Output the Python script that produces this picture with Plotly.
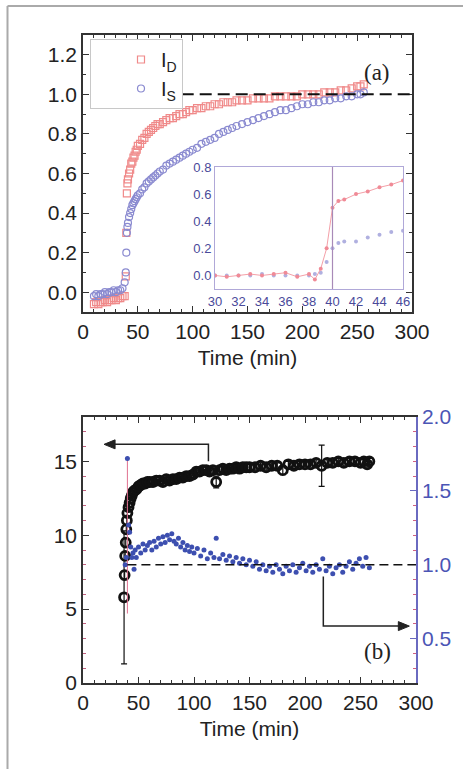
import plotly.graph_objects as go

# ---- panel (a): normalised intensities ----
time_a = [10, 12, 14, 16, 18, 20, 22, 24, 26, 28, 30, 32, 34, 36, 38, 39, 39.5, 40, 40.5, 41,
          42, 43, 44, 45, 46, 47, 48, 49, 50, 52, 54, 56, 58, 60, 62, 64, 66, 68, 70, 73,
          76, 79, 82, 85, 88, 91, 94, 97, 100, 104, 108, 112, 116, 120, 124, 128, 132, 136, 140, 145,
          150, 155, 160, 165, 170, 175, 180, 185, 190, 195, 200, 205, 210, 215, 220, 225, 230, 235, 240, 245,
          250, 253, 256]
i_d = [-0.06, -0.05, -0.06, -0.05, -0.05, -0.04, -0.05, -0.04, -0.04, -0.03, -0.04, -0.03, -0.03, -0.02, -0.02, 0.08, 0.30, 0.50, 0.55, 0.57,
       0.60, 0.62, 0.65, 0.66, 0.68, 0.69, 0.71, 0.72, 0.74, 0.75, 0.77, 0.78, 0.80, 0.81, 0.82, 0.83, 0.84, 0.85, 0.85, 0.86,
       0.87, 0.88, 0.88, 0.89, 0.90, 0.90, 0.91, 0.92, 0.92, 0.93, 0.93, 0.94, 0.94, 0.95, 0.95, 0.96, 0.96, 0.96, 0.97, 0.97,
       0.97, 0.98, 0.98, 0.98, 0.98, 0.99, 0.99, 0.99, 0.99, 0.99, 1.00, 1.00, 1.00, 1.00, 1.01, 1.01, 1.01, 1.02, 1.02, 1.03,
       1.04, 1.04, 1.05]
i_s = [-0.02, -0.01, -0.02, -0.01, -0.01, 0.00, -0.01, 0.00, 0.00, 0.01, 0.00, 0.01, 0.01, 0.02, 0.05, 0.10, 0.20, 0.30, 0.33, 0.35,
       0.38, 0.40, 0.42, 0.44, 0.45, 0.46, 0.47, 0.48, 0.49, 0.50, 0.52, 0.53, 0.55, 0.56, 0.57, 0.58, 0.59, 0.60, 0.61, 0.62,
       0.64, 0.65, 0.66, 0.67, 0.68, 0.69, 0.70, 0.71, 0.72, 0.73, 0.75, 0.76, 0.77, 0.78, 0.80, 0.81, 0.82, 0.83, 0.84, 0.85,
       0.86, 0.87, 0.88, 0.89, 0.90, 0.91, 0.92, 0.92, 0.93, 0.94, 0.95, 0.95, 0.96, 0.96, 0.97, 0.97, 0.98, 0.98, 0.99, 0.99,
       1.00, 1.00, 1.01]

# inset: zoom on the jump
time_in = [30, 31, 32, 33, 34, 35, 36, 37, 38, 38.5, 39, 39.5, 40, 40.5, 41, 42, 43, 44, 45, 46]
i_d_in = [0.00, -0.01, 0.00, 0.01, 0.00, 0.01, 0.02, -0.01, 0.01, -0.03, 0.05, 0.20, 0.50, 0.55, 0.56, 0.60, 0.62, 0.65, 0.67, 0.70]
i_s_in = [0.00, 0.00, 0.00, 0.00, 0.01, 0.00, 0.00, 0.00, 0.00, 0.01, 0.02, 0.10, 0.20, 0.24, 0.25, 0.25, 0.28, 0.30, 0.32, 0.33]

# ---- panel (b) ----
time_b = [37, 37.5, 38, 38.5, 39, 39.5, 40, 41, 42, 43, 44, 45, 46, 48, 50, 52, 54, 56, 58, 60,
          63, 66, 69, 72, 75, 78, 81, 84, 87, 90, 93, 96, 99, 102, 105, 108, 111, 114, 117, 120,
          123, 126, 129, 132, 135, 138, 141, 144, 147, 150, 155, 160, 165, 170, 175, 180, 185, 190, 195, 200,
          205, 210, 215, 220, 225, 230, 235, 240, 245, 250, 253, 256, 258]
left_b = [5.8, 7.3, 8.6, 9.5, 10.4, 11.0, 11.5, 11.9, 12.2, 12.5, 12.7, 12.9, 13.0, 13.1, 13.3, 13.4, 13.5, 13.5, 13.6, 13.6,
          13.6, 13.7, 13.7, 13.6, 13.8, 13.7, 13.8, 13.8, 13.9, 13.9, 14.0, 14.0, 14.1, 14.3, 14.3, 14.4, 14.4, 14.3, 14.4, 13.6,
          14.4, 14.5, 14.4, 14.5, 14.5, 14.6, 14.5, 14.6, 14.6, 14.6, 14.6, 14.7, 14.6, 14.7, 14.7, 14.4, 14.8, 14.7, 14.8, 14.8,
          14.8, 14.9, 14.7, 14.9, 14.9, 15.0, 14.9, 15.0, 15.0, 14.9, 15.0, 14.8, 15.0]
left_err = [4.5, 0.3, 0.3, 0.3, 0.3, 0.3, 0.3, 0.3, 0.3, 0.3, 0.3, 0.3, 0.3, 0.3, 0.3, 0.2, 0.2, 0.2, 0.2, 0.2,
            0.2, 0.2, 0.2, 0.2, 0.2, 0.2, 0.2, 0.2, 0.2, 0.2, 0.2, 0.2, 0.2, 0.2, 0.2, 0.2, 0.2, 0.2, 0.2, 0.4,
            0.2, 0.2, 0.2, 0.2, 0.2, 0.2, 0.2, 0.2, 0.2, 0.2, 0.2, 0.2, 0.2, 0.2, 0.2, 0.3, 0.2, 0.2, 0.2, 0.2,
            0.2, 0.2, 1.4, 0.2, 0.2, 0.2, 0.2, 0.2, 0.2, 0.2, 0.2, 0.2, 0.2]

time_r = [38, 39, 40, 41, 42, 43, 44, 45, 46, 47, 48, 50, 52, 54, 56, 58, 60, 62, 64, 66,
          68, 70, 72, 74, 76, 78, 80, 82, 84, 86, 88, 90, 92, 94, 96, 98, 100, 103, 106, 109,
          112, 115, 118, 120, 123, 126, 129, 132, 135, 138, 141, 144, 147, 150, 153, 156, 159, 162, 165, 168,
          171, 174, 177, 180, 183, 186, 189, 192, 195, 198, 201, 204, 207, 210, 213, 216, 219, 222, 225, 228,
          231, 234, 237, 240, 243, 246, 249, 252, 255, 258]
right_b = [1.00, 1.05, 1.72, 1.27, 1.22, 1.12, 1.05, 1.08, 0.97, 1.10, 1.05, 1.12, 1.08, 1.14, 1.10, 1.13, 1.15, 1.10, 1.16, 1.12,
           1.18, 1.14, 1.19, 1.15, 1.20, 1.17, 1.21, 1.16, 1.14, 1.18, 1.12, 1.15, 1.10, 1.13, 1.09, 1.12, 1.08, 1.11, 1.06, 1.10,
           1.04, 1.08, 1.05, 1.18, 1.04, 1.07, 1.03, 1.06, 1.02, 1.05, 1.01, 1.04, 1.00, 1.03, 0.99, 1.02, 0.97, 1.00, 0.96, 0.99,
           0.95, 1.00, 0.97, 0.94, 0.99, 0.96, 1.00, 0.95, 0.98, 1.01, 0.96, 0.99, 0.95, 1.00, 0.97, 1.04, 0.96, 0.99, 0.94, 0.98,
           1.00, 0.95, 0.99, 1.02, 0.97, 1.01, 1.04, 0.99, 1.05, 0.98]
right_err_minus = [0] * 2 + [1.05] + [0] * 87

W, H = 472, 769
def px(x):
    return x / W
def py(y):
    return 1 - y / H

RED = "#f08a8a"
BLUE = "#8a8ad0"
AX = "#333333"
FONT = "Liberation Sans, Arial, sans-serif"

fig = go.Figure()

fig.add_trace(go.Scatter(x=time_a, y=i_d, mode="markers", name="I<sub>D</sub>",
                         marker=dict(symbol="square-open", size=7, color=RED, line=dict(width=1.2)),
                         xaxis="x", yaxis="y"))
fig.add_trace(go.Scatter(x=time_a, y=i_s, mode="markers", name="I<sub>S</sub>",
                         marker=dict(symbol="circle-open", size=7, color=BLUE, line=dict(width=1.2)),
                         xaxis="x", yaxis="y"))

fig.add_trace(go.Scatter(x=time_in, y=i_s_in, mode="markers", showlegend=False,
                         marker=dict(symbol="circle", size=4, color="#b0b0e0"),
                         xaxis="x2", yaxis="y2"))
fig.add_trace(go.Scatter(x=time_in, y=i_d_in, mode="lines+markers", showlegend=False,
                         line=dict(color="#f4a0a8", width=1),
                         marker=dict(symbol="circle", size=4, color="#f08a96"),
                         xaxis="x2", yaxis="y2"))

fig.add_trace(go.Scatter(x=time_r, y=right_b, mode="markers", showlegend=False,
                         marker=dict(symbol="circle", size=5, color="#3d4fb0"),
                         error_y=dict(type="data", symmetric=False, array=[0] * len(time_r),
                                      arrayminus=right_err_minus, color="#e07090", thickness=1, width=0),
                         xaxis="x3", yaxis="y4"))
fig.add_trace(go.Scatter(x=time_b, y=left_b, mode="markers", showlegend=False,
                         marker=dict(symbol="circle-open", size=9, color="#111111", line=dict(width=2.8)),
                         error_y=dict(type="data", array=left_err, color="#111111", thickness=1.2, width=3),
                         xaxis="x3", yaxis="y3"))

def axis_common(**kw):
    d = dict(showline=True, linecolor=AX, linewidth=1.5, mirror="ticks", ticks="inside",
             ticklen=6, tickwidth=1.2, tickcolor=AX, showgrid=False, zeroline=False, automargin=False,
             tickfont=dict(family=FONT, size=21, color="#222"))
    d.update(kw)
    return d

fig.update_layout(
    template="none",
    width=W, height=H, margin=dict(l=0, r=0, t=0, b=0, pad=0),
    paper_bgcolor="white", plot_bgcolor="white",
    xaxis=axis_common(domain=[px(83), px(412)], range=[0, 300], dtick=50, anchor="y",
                      minor=dict(dtick=10, ticks="inside", ticklen=3, tickcolor=AX),
                      title=dict(text="Time (min)", font=dict(family=FONT, size=21, color="#222"), standoff=8)),
    yaxis=axis_common(domain=[py(312), py(35)], range=[-0.1, 1.3], dtick=0.2, tickformat=".1f",
                      anchor="x", minor=dict(dtick=0.1, ticks="inside", ticklen=3, tickcolor=AX)),
    xaxis2=dict(domain=[px(215), px(403)], range=[30, 46], dtick=2, anchor="y2", automargin=False,
                showline=True, linecolor="#b0a8d8", linewidth=1, mirror=True, ticks="", showgrid=False,
                zeroline=False, tickfont=dict(family=FONT, size=13, color="#4a4a9a")),
    yaxis2=dict(domain=[py(289), py(167)], range=[-0.1, 0.8], dtick=0.2, tickformat=".1f", anchor="x2",
                automargin=False,
                showline=True, linecolor="#b0a8d8", linewidth=1, mirror=True, ticks="", showgrid=False,
                zeroline=False, tickfont=dict(family=FONT, size=13, color="#4a4a9a")),
    xaxis3=axis_common(domain=[px(83), px(416)], range=[0, 300], dtick=50, anchor="y3",
                       minor=dict(dtick=10, ticks="inside", ticklen=3, tickcolor=AX),
                       title=dict(text="Time (min)", font=dict(family=FONT, size=21, color="#222"), standoff=8)),
    yaxis3=axis_common(domain=[py(683), py(417)], range=[0, 18], dtick=5, anchor="x3", mirror=False,
                       minor=dict(dtick=1, ticks="inside", ticklen=3, tickcolor="#c06080")),
    yaxis4=dict(overlaying="y3", side="right", anchor="x3", range=[0.2, 2.0], dtick=0.5, tickformat=".1f",
                automargin=False,
                showline=True, linecolor="#6a6ac0", linewidth=1.5, ticks="inside", ticklen=6,
                tickcolor="#6a6ac0", showgrid=False, zeroline=False,
                minor=dict(dtick=0.1, ticks="inside", ticklen=3, tickcolor="#d06080"),
                tickfont=dict(family=FONT, size=21, color="#4b55b5")),
    legend=dict(x=px(90), y=py(39), xanchor="left", yanchor="top", bgcolor="white",
                bordercolor="#c8c8c8", borderwidth=1, itemwidth=30, indentation=30,
                font=dict(family=FONT, size=20, color="#222"), tracegroupgap=0),
    showlegend=True,
)

arrow_tip = "M0,0 L11,-4.5 L11,4.5 Z"
shapes = [
    # outer frame (left and top edges)
    dict(type="line", xref="paper", yref="paper", x0=px(7.5), x1=px(7.5), y0=0, y1=py(6),
         line=dict(color="#aaaaaa", width=2)),
    dict(type="line", xref="paper", yref="paper", x0=px(7.5), x1=px(463), y0=py(6), y1=py(6),
         line=dict(color="#aaaaaa", width=2)),
    # reference lines
    dict(type="line", xref="x", yref="y", x0=90, x1=300, y0=1, y1=1,
         line=dict(color="#111", width=2, dash="12px,6px")),
    dict(type="line", xref="x2", yref="y2", x0=40, x1=40, y0=-0.1, y1=0.8,
         line=dict(color="#a88ab8", width=1.2)),
    dict(type="line", xref="x3", yref="y4", x0=40, x1=300, y0=1, y1=1,
         line=dict(color="#111", width=1.5, dash="9px,5px")),
    # arrows pointing to the left / right axes
    dict(type="path", xref="x3", yref="y3", path="M113,15.0 L113,16.15 L24,16.15",
         line=dict(color="#222", width=1.5)),
    dict(type="path", xref="x3", yref="y3", xsizemode="pixel", ysizemode="pixel",
         xanchor=19, yanchor=16.15, path=arrow_tip, fillcolor="#222", line=dict(color="#222", width=1)),
    dict(type="path", xref="x3", yref="y4", path="M216.5,0.92 L216.5,0.585 L288,0.585",
         line=dict(color="#222", width=1.5)),
    dict(type="path", xref="x3", yref="y4", xsizemode="pixel", ysizemode="pixel",
         xanchor=294, yanchor=0.585, path="M0,0 L-11,-4.5 L-11,4.5 Z", fillcolor="#222",
         line=dict(color="#222", width=1)),
]
fig.update_layout(shapes=shapes)

fig.add_annotation(x=px(392), y=py(58), xref="paper", yref="paper", text="(a)", showarrow=False,
                   font=dict(family="Liberation Serif, Times New Roman, serif", size=23, color="#222"))
fig.add_annotation(x=px(393), y=py(666), xref="paper", yref="paper", text="(b)", showarrow=False,
                   font=dict(family="Liberation Serif, Times New Roman, serif", size=23, color="#222"))

fig.write_html("out.html", config={"displayModeBar": False},
               post_script="document.body.style.margin='0';document.body.style.overflow='hidden';")
